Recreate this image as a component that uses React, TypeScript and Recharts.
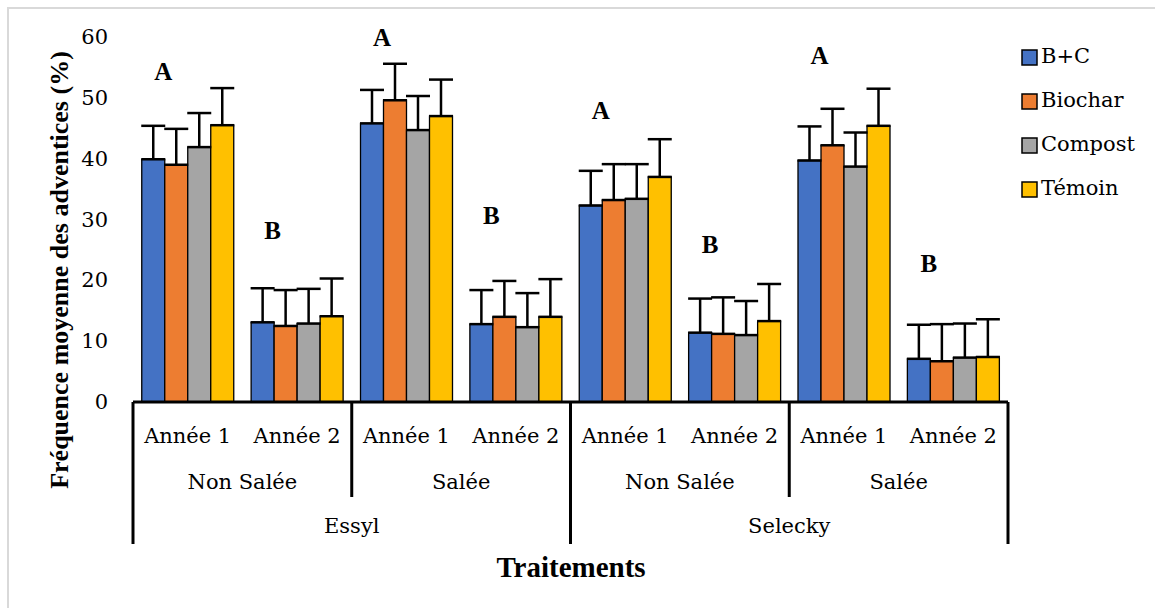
import { BarChart, Bar, XAxis, YAxis, ErrorBar, LabelList } from "recharts";

const years = ["Année 1", "Année 2", "Année 1", "Année 2", "Année 1", "Année 2", "Année 1", "Année 2"];
const salinity = ["Non Salée", "Salée", "Non Salée", "Salée"];
const sites = ["Essyl", "Selecky"];

const bcValues = [39.9, 13.1, 45.8, 12.8, 32.3, 11.4, 39.7, 7.1];
const bcErrors = [5.5, 5.6, 5.5, 5.6, 5.7, 5.6, 5.6, 5.6];
const biocharValues = [39.0, 12.5, 49.6, 14.0, 33.2, 11.2, 42.2, 6.7];
const biocharErrors = [5.9, 5.9, 6.0, 5.9, 5.9, 6.0, 6.0, 6.1];
const compostValues = [41.9, 12.9, 44.7, 12.3, 33.4, 11.0, 38.7, 7.3];
const compostErrors = [5.6, 5.7, 5.6, 5.6, 5.7, 5.6, 5.6, 5.6];
const temoinValues = [45.5, 14.1, 47.0, 14.0, 37.0, 13.3, 45.4, 7.4];
const temoinErrors = [6.1, 6.2, 6.0, 6.2, 6.2, 6.1, 6.1, 6.2];

const letters = ["A", "B", "A", "B", "A", "B", "A", "B"];
const letterLevels = [54.2, 28.1, 59.9, 30.5, 47.9, 25.8, 56.9, 22.7];

const yTicks = [0, 10, 20, 30, 40, 50, 60];

const series = [
  { key: "bc", name: "B+C", color: "#4472C4", values: bcValues, errors: bcErrors },
  { key: "biochar", name: "Biochar", color: "#ED7D31", values: biocharValues, errors: biocharErrors },
  { key: "compost", name: "Compost", color: "#A5A5A5", values: compostValues, errors: compostErrors },
  { key: "temoin", name: "Témoin", color: "#FFC000", values: temoinValues, errors: temoinErrors },
];

const data = years.map((year, i) => {
  const row: Record<string, any> = { id: `g${i}`, year };
  series.forEach((s) => {
    row[s.key] = s.values[i];
    row[`${s.key}Err`] = [0, s.errors[i]];
  });
  return row;
});

const W = 1155;
const H = 608;
const margin = { top: 37, right: 147, bottom: 176, left: 73 };
const Y_AXIS_W = 60;
const X_AXIS_H = 30;
const PLOT_W = W - margin.left - margin.right - Y_AXIS_W;

// regular Times-like face is not picked up here, DejaVu Serif stands in for it
const serif = "'DejaVu Serif', serif";
const serifBold = "'Liberation Serif', 'Times New Roman', serif";
const REG = 21;

const CategoryTick = (props: any) => {
  const { x, y, payload } = props;
  const i: number = props.index ?? payload.index;
  const band = PLOT_W / years.length;
  const left = x - band / 2;
  const txt = { fontFamily: serif, fontSize: REG, fill: "#000", textAnchor: "middle" as const };
  return (
    <g>
      <text x={x} y={y + 41} {...txt}>{years[i]}</text>
      {i % 2 === 0 && (
        <text x={x + band / 2} y={y + 87} {...txt}>{salinity[i / 2]}</text>
      )}
      {i % 4 === 0 && (
        <text x={x + band * 1.5} y={y + 131} {...txt}>{sites[i / 4]}</text>
      )}
      {i % 2 === 0 && (
        <line x1={left} x2={left} y1={y} y2={y + (i % 4 === 0 ? 142 : 95)} stroke="#000" strokeWidth={3} />
      )}
      {i === years.length - 1 && (
        <line x1={left + band} x2={left + band} y1={y} y2={y + 142} stroke="#000" strokeWidth={3} />
      )}
    </g>
  );
};

const LetterLabel = (props: any) => {
  const x = Number(props.x);
  const y = Number(props.y);
  const width = Number(props.width);
  const height = Number(props.height);
  const i = props.index;
  const base = y + height;
  const ly = base - (height * letterLevels[i]) / bcValues[i];
  return (
    <text
      x={x + width / 2 + 10}
      y={ly + 8}
      textAnchor="middle"
      fontFamily={serifBold}
      fontWeight="bold"
      fontSize={25}
      fill="#000"
    >
      {letters[i]}
    </text>
  );
};

const YTick = (props: any) => {
  const { x, y, payload } = props;
  return (
    <text x={x} y={y + 7} textAnchor="end" fontFamily={serif} fontSize={REG} fill="#000">
      {payload.value}
    </text>
  );
};

export default function App() {
  return (
    <div style={{ position: "fixed", left: 0, top: 0, width: W, height: H, background: "#fff", overflow: "hidden" }}>
      <style>{`body{overflow:hidden}`}</style>
      <div
        style={{
          position: "absolute",
          left: 7,
          top: 7,
          width: W + 20,
          height: H + 20,
          border: "2px solid #d9d9d9",
        }}
      />
      <div style={{ position: "absolute", left: 0, top: 0 }}>
        <BarChart width={W} height={H} data={data} margin={margin} barCategoryGap="8%" barGap={0}>
          <XAxis
            dataKey="id"
            height={X_AXIS_H}
            interval={0}
            tickSize={0}
            tickMargin={0}
            tickLine={false}
            axisLine={{ stroke: "#000", strokeWidth: 3 }}
            tick={<CategoryTick />}
            label={{
              value: "Traitements",
              content: () => (
                <text x={571} y={577} textAnchor="middle" fontFamily={serifBold} fontWeight="bold" fontSize={29} fill="#000">
                  Traitements
                </text>
              ),
            }}
          />
          <YAxis
            width={Y_AXIS_W}
            domain={[0, 60]}
            ticks={yTicks}
            interval={0}
            axisLine={false}
            tickLine={false}
            tickSize={0}
            tickMargin={25}
            tick={<YTick />}
            label={{
              value: "Fréquence moyenne des adventices (%)",
              content: () => (
                <text
                  x={68}
                  y={270}
                  transform="rotate(-90, 68, 270)"
                  textAnchor="middle"
                  fontFamily={serifBold}
                  fontWeight="bold"
                  fontSize={26}
                  fill="#000"
                >
                  Fréquence moyenne des adventices (%)
                </text>
              ),
            }}
          />
          {series.map((s) => (
            <Bar
              key={s.key}
              dataKey={s.key}
              name={s.name}
              fill={s.color}
              stroke="#000"
              strokeWidth={1.3}
              isAnimationActive={false}
            >
              <ErrorBar dataKey={`${s.key}Err`} width={12} stroke="#000" strokeWidth={2.5} direction="y" />
              {s.key === "bc" && <LabelList dataKey="bc" content={<LetterLabel />} />}
            </Bar>
          ))}
        </BarChart>
      </div>
      <svg width={W} height={H} style={{ position: "absolute", left: 0, top: 0, pointerEvents: "none" }}>
        {series.map((s, k) => (
          <g key={s.key}>
            <rect x={1022} y={63 + 44 * k - 13} width={15} height={15} fill={s.color} stroke="#000" strokeWidth={1.5} />
            <text x={1041} y={63 + 44 * k} fontFamily={serif} fontSize={REG} fill="#000">
              {s.name}
            </text>
          </g>
        ))}
      </svg>
    </div>
  );
}
